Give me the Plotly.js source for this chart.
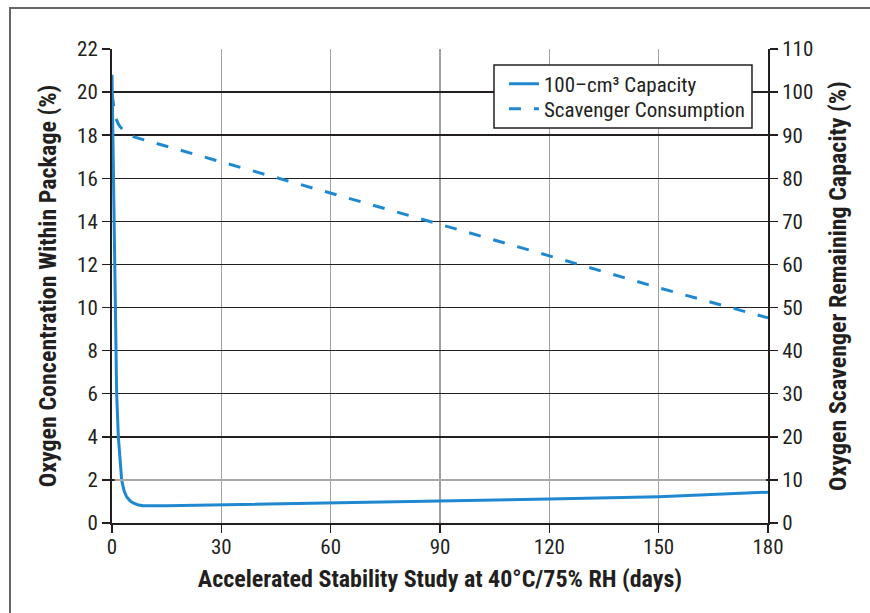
<!DOCTYPE html>
<html>
<head>
<meta charset="utf-8">
<script src="https://cdn.plot.ly/plotly-3.0.1.min.js"></script>
<style>
  html, body { margin: 0; padding: 0; background: #fff; }
  #frame { position: absolute; left: 9px; top: 7px; width: 900px; height: 700px;
           border-left: 2px solid #666; border-top: 2px solid #666; }
  #chart { position: absolute; left: 0; top: 0; width: 870px; height: 613px; }
</style>
</head>
<body>
<div id="frame"></div>
<div id="chart"></div>
<script>
// Oxygen concentration within package (%), left axis
const capacityDays = [0, 0.2, 0.37, 0.55, 0.74, 1.0, 1.28, 1.74, 2.2, 2.65, 3.3, 4.0, 5.0, 5.8, 7.0, 8.5, 15, 30, 60, 90, 120, 150, 180];
const capacityO2   = [20.8, 18.5, 16.0, 13.0, 10.0, 8.0, 6.0, 4.0, 2.8, 2.0, 1.5, 1.22, 1.02, 0.93, 0.85, 0.80, 0.80, 0.84, 0.94, 1.02, 1.11, 1.22, 1.43];
// Oxygen scavenger remaining capacity (%), right axis
const consumptionDays = [0, 0.4, 1.0, 1.8, 2.6, 4.0, 6.0, 30, 60, 90, 120, 150, 180];
const consumptionCap  = [99.5, 97.5, 94.0, 92.5, 91.6, 90.4, 89.6, 83.8, 76.6, 69.3, 62.0, 54.6, 47.6];

const xTicks = [0, 30, 60, 90, 120, 150, 180];
const yTicks = [0, 2, 4, 6, 8, 10, 12, 14, 16, 18, 20, 22];
const y2Ticks = [0, 10, 20, 30, 40, 50, 60, 70, 80, 90, 100, 110];

const seriesNames = ['100–cm³ Capacity', 'Scavenger Consumption'];
const blue = '#1f88d0';
const INK = '#231f20';
const FONT = '"Liberation Sans Narrow", "Roboto Condensed", "Arial Narrow", Roboto, sans-serif';

const traces = [
  { x: capacityDays, y: capacityO2, name: seriesNames[0], type: 'scatter', mode: 'lines',
    line: { color: blue, width: 3 }, yaxis: 'y', legend: 'legend' },
  { x: consumptionDays, y: consumptionCap, name: seriesNames[1], type: 'scatter', mode: 'lines',
    line: { color: blue, width: 3, dash: '12px,13px' }, yaxis: 'y2', legend: 'legend2' }
];

const tickFont = { family: FONT, size: 21, color: INK };
const titleFont = { family: FONT, size: 24, color: INK };
const legendFont = { family: FONT, size: 21, color: INK };

const layout = {
  width: 870, height: 613,
  margin: { l: 112, r: 102, t: 49, b: 90 },
  paper_bgcolor: 'rgba(0,0,0,0)', plot_bgcolor: 'rgba(0,0,0,0)',
  font: { family: FONT, size: 21, color: INK },
  showlegend: true,
  legend: { x: 0.5975, xanchor: 'left', y: 0.926, yanchor: 'middle',
            borderwidth: 0, bgcolor: 'rgba(0,0,0,0)', font: legendFont, itemwidth: 30 },
  legend2: { x: 0.5975, xanchor: 'left', y: 0.873, yanchor: 'middle',
             borderwidth: 0, bgcolor: 'rgba(0,0,0,0)', font: legendFont, itemwidth: 30 },
  xaxis: { range: [0, 180], tickvals: xTicks, ticktext: xTicks.map(String), tickfont: tickFont,
           showgrid: true, gridcolor: '#a0a0a0', gridwidth: 1.5,
           showline: true, linecolor: INK, linewidth: 2,
           ticks: 'outside', ticklen: 8, tickwidth: 1.5, tickcolor: INK,
           ticklabelstandoff: -4,
           zeroline: false, fixedrange: true,
           title: { text: '<b>Accelerated Stability Study at 40°C/75% RH (days)</b>',
                    font: titleFont, standoff: 12 } },
  yaxis: { range: [0, 22], tickvals: yTicks, ticktext: yTicks.map(String), tickfont: tickFont,
           showgrid: true, gridcolor: INK, gridwidth: 1.5,
           showline: true, linecolor: INK, linewidth: 2,
           ticks: 'outside', ticklen: 8, tickwidth: 1.5, tickcolor: INK,
           zeroline: false, fixedrange: true,
           title: { text: '<b>Oxygen Concentration Within Package (%)</b>',
                    font: titleFont, standoff: 14 } },
  yaxis2: { range: [0, 110], tickvals: y2Ticks, ticktext: y2Ticks.map(String), tickfont: tickFont,
            overlaying: 'y', side: 'right', showgrid: false,
            showline: true, linecolor: INK, linewidth: 2,
            ticks: 'outside', ticklen: 8, tickwidth: 1.5, tickcolor: INK,
            zeroline: false, fixedrange: true,
            title: { text: '<b>Oxygen Scavenger Remaining Capacity (%)</b>',
                     font: titleFont, standoff: 17 } },
  shapes: [
    { type: 'line', xref: 'paper', x0: 0.004, x1: 0.997, yref: 'y', y0: 2, y1: 2,
      line: { color: '#a8a8a8', width: 2 }, layer: 'above' },
    // legend frame
    { type: 'rect', xref: 'paper', yref: 'paper', x0: 0.5823, x1: 0.9756, y0: 0.8333, y1: 0.9662,
      line: { color: INK, width: 1.5 }, fillcolor: '#ffffff', layer: 'above' }
  ]
};

Plotly.newPlot('chart', traces, layout, { displayModeBar: false, staticPlot: true });
</script>
</body>
</html>
